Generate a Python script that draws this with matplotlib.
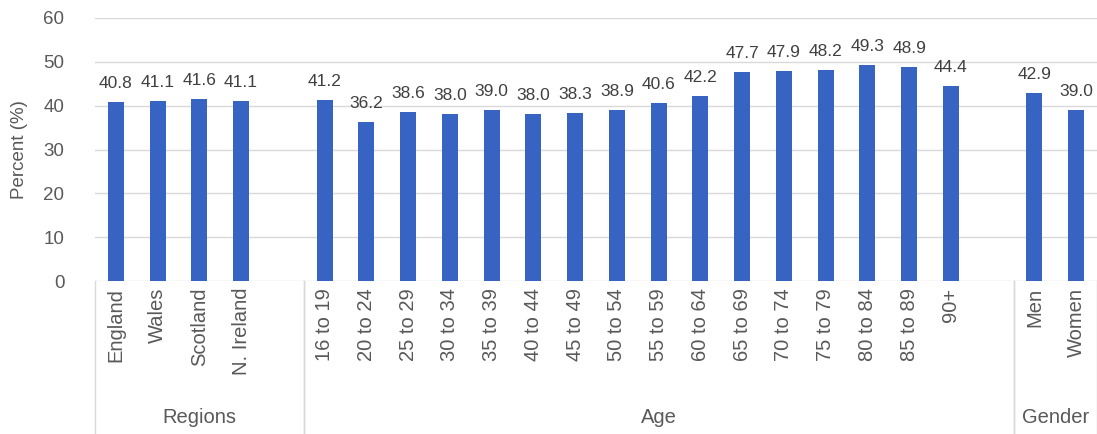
import matplotlib.pyplot as plt
import matplotlib.transforms as mtransforms

plt.rcParams['font.family'] = ['Liberation Sans', 'DejaVu Sans']

region_labels = ["England", "Wales", "Scotland", "N. Ireland"]
region_values = [40.8, 41.1, 41.6, 41.1]
age_labels = ["16 to 19", "20 to 24", "25 to 29", "30 to 34", "35 to 39", "40 to 44",
              "45 to 49", "50 to 54", "55 to 59", "60 to 64", "65 to 69", "70 to 74",
              "75 to 79", "80 to 84", "85 to 89", "90+"]
age_values = [41.2, 36.2, 38.6, 38.0, 39.0, 38.0, 38.3, 38.9, 40.6, 42.2,
              47.7, 47.9, 48.2, 49.3, 48.9, 44.4]
gender_labels = ["Men", "Women"]
gender_values = [42.9, 39.0]
group_names = ["Regions", "Age", "Gender"]

groups = [(region_labels, region_values), (age_labels, age_values), (gender_labels, gender_values)]

bar_color = "#3764c3"
text_color = "#595959"

fig = plt.figure(figsize=(10.97, 4.34), dpi=100)
ax = fig.add_axes([95 / 1097, 153 / 434, 1 - 95 / 1097, 263 / 434])

xs, vals, labels = [], [], []
bounds = []  # (start, end) of each group in slot units
pos = 0
for gi, (labs, vs) in enumerate(groups):
    start = pos
    for lab, v in zip(labs, vs):
        xs.append(pos)
        vals.append(v)
        labels.append(lab)
        pos += 1
    if gi < len(groups) - 1:
        pos += 1  # blank slot after group
    bounds.append((start - 0.5, pos - 0.5))

ax.bar(xs, vals, width=0.38, color=bar_color, zorder=3)
for x, v in zip(xs, vals):
    ax.annotate(f"{v:.1f}", (x, v), xytext=(0, 8), textcoords="offset points",
                ha="center", va="bottom", fontsize=12.5, color="#404040")

ax.set_xlim(-0.5, pos - 0.5)
ax.set_ylim(0, 60)
ax.set_yticks(range(0, 61, 10))
ax.set_xticks(xs)
ax.set_xticklabels(labels, rotation=90, fontsize=14.5, color=text_color, va="top")
ax.tick_params(axis="y", labelsize=13.5, colors=text_color, length=0, pad=22)
ax.tick_params(axis="x", length=0, pad=5)
ax.grid(axis="y", color="#d9d9d9", linewidth=1, zorder=0)
for s in ax.spines.values():
    s.set_visible(False)
ax.set_ylabel("Percent (%)", fontsize=13.5, color=text_color, labelpad=11)

trans = mtransforms.blended_transform_factory(ax.transData, ax.transAxes)
for (a, b), name in zip(bounds, group_names):
    for xb in (a, b):
        ax.plot([xb, xb], [0, -0.6], transform=trans, color="#d9d9d9", linewidth=1, clip_on=False)
    ax.text((a + b) / 2, -0.52, name, transform=trans, ha="center", va="center",
            fontsize=14.5, color=text_color)

fig.savefig("out.png", dpi=100)
